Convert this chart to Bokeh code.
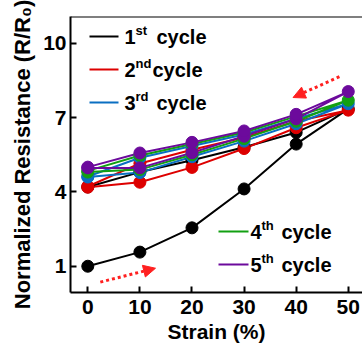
from bokeh.plotting import figure
from bokeh.models import FixedTicker, Label, Span, Arrow, NormalHead, Range1d, BoxAnnotation
from bokeh.embed import file_html
from bokeh.resources import INLINE

# ---------------- data ----------------
strain = [0, 10, 20, 30, 40, 50, 40, 30, 20, 10, 0]
cycle1 = [1.00, 1.57, 2.55, 4.12, 5.93, 7.35, 6.40, 5.80, 5.28, 4.80, 4.20]
cycle2 = [4.19, 4.39, 4.99, 5.75, 6.59, 7.30, 6.85, 6.20, 5.70, 5.15, 4.22]
cycle3 = [4.60, 4.78, 5.42, 6.05, 6.75, 7.56, 6.95, 6.32, 5.85, 5.38, 4.62]
cycle4 = [4.80, 4.90, 5.50, 6.15, 6.85, 7.70, 7.05, 6.40, 5.93, 5.47, 4.85]
cycle5 = [4.97, 4.97, 5.58, 6.25, 6.95, 8.05, 7.13, 6.46, 6.00, 5.57, 5.00]
x_ticks = [0, 10, 20, 30, 40, 50]
y_ticks = [1, 4, 7, 10]
cycle_nums = ["1", "2", "3", "4", "5"]
cycle_sups = ["st", "nd", "rd", "th", "th"]
x_label = "Strain (%)"
y_label = "Normalized Resistance (R/R\u2080)"

# arrows (data coords of annotation arrows)
arrow_load = (2.4, 0.36, 13.0, 0.92)
arrow_unload = (48.3, 8.65, 39.4, 7.81)

# ---------------- style ----------------
colors = ["#000000", "#dd0000", "#0a6fc2", "#12a012", "#6c0a9c"]
FONT = "Liberation Sans"
Y0, Y1 = -0.06, 11.08

p = figure(width=362, height=349, output_backend="svg", toolbar_location=None,
           x_range=Range1d(-3.32, 52.73), y_range=Range1d(Y0, Y1),
           min_border_left=70, min_border_right=0, min_border_top=16, min_border_bottom=57)
p.outline_line_color = None
p.grid.visible = False
p.background_fill_color = "white"

for ax in (p.xaxis[0], p.yaxis[0]):
    ax.axis_line_width = 2
    ax.major_tick_line_width = 2
    ax.major_tick_in = 6
    ax.major_tick_out = 0
    ax.minor_tick_line_color = None
    ax.major_label_text_font = FONT
    ax.major_label_text_font_style = "bold"
    ax.major_label_text_font_size = "21px"
    ax.major_label_text_color = "black"
    ax.axis_line_color = "black"
    ax.major_tick_line_color = "black"
    ax.axis_label_text_font = FONT
    ax.axis_label_text_font_style = "bold"
    ax.axis_label_text_color = "black"

p.xaxis.ticker = FixedTicker(ticks=x_ticks)
p.yaxis.ticker = FixedTicker(ticks=y_ticks)
p.xaxis.major_label_standoff = 7
p.yaxis.major_label_standoff = 4
p.xaxis.axis_label = x_label
p.xaxis.axis_label_text_font_size = "21px"
p.xaxis.axis_label_standoff = 3
p.yaxis.axis_label = y_label
p.yaxis.axis_label_text_font_size = "22px"
p.yaxis.axis_label_standoff = 5

# top frame border
p.add_layout(Span(location=Y1, dimension="width", line_color="black", line_width=2))

# series
series = [cycle1, cycle2, cycle3, cycle4, cycle5]
for ys, c in zip(series, colors):
    p.line(strain, ys, line_color=c, line_width=2)
for ys, c in zip(series, colors):
    p.scatter(strain, ys, size=12, fill_color=c, line_color=c)

# arrows
for (x0, y0, x1, y1) in (arrow_load, arrow_unload):
    p.add_layout(Arrow(x_start=x0, y_start=y0, x_end=x1, y_end=y1,
                       line_color="#ff2020", line_width=3, line_dash="3 3",
                       end=NormalHead(size=12, fill_color="#ff2020", line_color="#ff2020")))

# legend (screen units relative to frame)
rows = [(19, 48, 256, 54, 65, 86), (19, 48, 223, 54, 65, 82), (19, 48, 190, 54, 65, 86),
        (148, 178, 61, 180, 191, 211), (148, 178, 28, 180, 191, 211)]
for i, (l, r, yc, xn, xs, xc) in enumerate(rows):
    p.add_layout(BoxAnnotation(left=l, right=r, bottom=yc - 1, top=yc + 1,
                               left_units="screen", right_units="screen",
                               bottom_units="screen", top_units="screen",
                               fill_color=colors[i], fill_alpha=1, line_color=None))
    common = dict(x_units="screen", y_units="screen", text_font=FONT,
                  text_font_style="bold", text_color="black", text_baseline="middle")
    p.add_layout(Label(x=xn, y=yc, text=cycle_nums[i], text_font_size="20px", **common))
    p.add_layout(Label(x=xs, y=yc + 6, text=cycle_sups[i], text_font_size="13px", **common))
    p.add_layout(Label(x=xc, y=yc, text="cycle", text_font_size="20px", **common))

open("out.html", "w").write(file_html(p, INLINE))
